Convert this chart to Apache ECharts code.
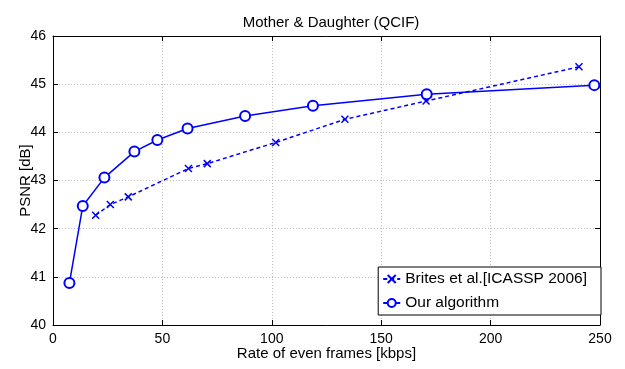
<!DOCTYPE html>
<html><head><meta charset="utf-8">
<script src="https://cdn.jsdelivr.net/npm/echarts@6/dist/echarts.min.js"></script>
<style>html,body{margin:0;padding:0;background:#fff}#c{width:625px;height:369px}</style>
</head><body><div id="c"></div>
<script>
const titleText = 'Mother & Daughter (QCIF)';
const xLabel = 'Rate of even frames [kbps]';
const yLabel = 'PSNR [dB]';
const britesName = 'Brites et al.[ICASSP 2006]';
const oursName = 'Our algorithm';
const britesX = [19.5, 26.2, 34.4, 61.9, 70.5, 101.8, 133.4, 170.5, 240.4];
const britesY = [42.28, 42.50, 42.66, 43.25, 43.35, 43.79, 44.27, 44.65, 45.36];
const oursX = [7.5, 13.6, 23.5, 37.2, 47.7, 61.5, 87.8, 118.8, 170.8, 247.4];
const oursY = [40.87, 42.47, 43.06, 43.60, 43.84, 44.08, 44.34, 44.55, 44.79, 44.98];
const xTicks = [0, 50, 100, 150, 200, 250];
const yTicks = [40, 41, 42, 43, 44, 45, 46];

const font = 'Liberation Sans, Arial, sans-serif';
const blue = '#0000ff';
const chart = echarts.init(document.getElementById('c'));
const gridLine = {show: true, lineStyle: {color: '#bdbdbd', type: [1, 2], width: 1}};
const baseX = {
  type: 'value', min: xTicks[0], max: xTicks[xTicks.length - 1], interval: 50,
  axisLine: {show: true, onZero: false, lineStyle: {color: '#000', width: 1}},
  axisTick: {show: true, inside: true, length: 5, lineStyle: {color: '#000'}},
};
const baseY = {
  type: 'value', min: yTicks[0], max: yTicks[yTicks.length - 1], interval: 1,
  axisLine: {show: true, onZero: false, lineStyle: {color: '#000', width: 1}},
  axisTick: {show: true, inside: true, length: 5, lineStyle: {color: '#000'}},
};
const cross = 'path://M0,0L10,10M10,0L0,10';
chart.setOption({
  animation: false,
  title: {text: titleText, left: 326, top: 10, textAlign: 'center',
    textStyle: {fontFamily: font, fontSize: 15, fontWeight: 'normal', color: '#000'}},
  grid: {left: 53, right: 25, top: 36, bottom: 44, outerBoundsMode: 'none', containLabel: false},
  legend: {
    right: 24, bottom: 54, orient: 'vertical', itemGap: 8,
    backgroundColor: '#fff', borderColor: '#000', borderWidth: 1, borderRadius: 0,
    padding: [4, 14, 4, 4], itemWidth: 17, itemHeight: 10,
    textStyle: {fontFamily: font, fontSize: 15.5, color: '#000'},
    data: [britesName, oursName]
  },
  xAxis: [
    Object.assign({}, baseX, {position: 'bottom', name: xLabel, nameLocation: 'middle', nameGap: 21,
      nameMoveOverlap: false,
      nameTextStyle: {fontFamily: font, fontSize: 15, color: '#000'},
      axisLabel: {fontFamily: font, fontSize: 14, color: '#000', margin: 7},
      splitLine: gridLine}),
    Object.assign({}, baseX, {position: 'top', axisLabel: {show: false}, splitLine: {show: false}})
  ],
  yAxis: [
    Object.assign({}, baseY, {position: 'left', name: yLabel, nameLocation: 'middle', nameGap: 20,
      nameMoveOverlap: false,
      nameTextStyle: {fontFamily: font, fontSize: 15, color: '#000'},
      axisLabel: {fontFamily: font, fontSize: 14, color: '#000', margin: 7},
      splitLine: gridLine}),
    Object.assign({}, baseY, {position: 'right', axisLabel: {show: false}, splitLine: {show: false}})
  ],
  series: [
    {name: britesName, type: 'line', xAxisIndex: 0, yAxisIndex: 0,
      data: britesX.map((x, i) => [x, britesY[i]]),
      symbol: cross, symbolSize: 7, showAllSymbol: true,
      lineStyle: {color: blue, width: 1.5, type: [4, 3]},
      itemStyle: {color: 'rgba(0,0,0,0)', borderColor: blue, borderWidth: 1.5}},
    {name: oursName, type: 'line', xAxisIndex: 0, yAxisIndex: 0,
      data: oursX.map((x, i) => [x, oursY[i]]),
      symbol: 'emptyCircle', symbolSize: 10, showAllSymbol: true,
      lineStyle: {color: blue, width: 1.5},
      itemStyle: {color: blue, borderColor: blue, borderWidth: 1.5}}
  ]
});
</script></body></html>
